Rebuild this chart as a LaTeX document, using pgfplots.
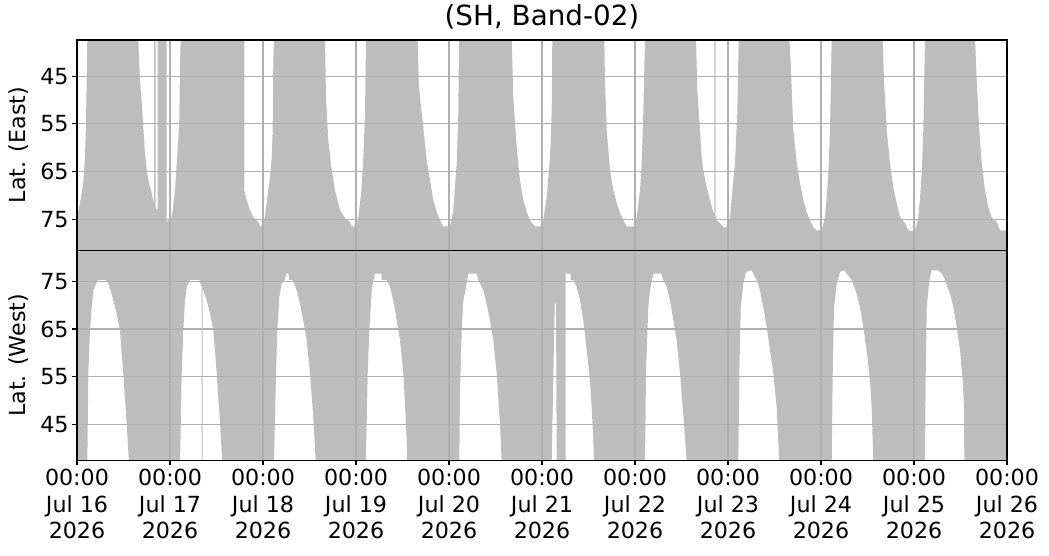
\documentclass[border=0pt]{standalone}
\usepackage{fontspec}
\setmainfont{DejaVu Sans}
\usepackage{pgfplots}
\pgfplotsset{compat=1.18}
\definecolor{fillgray}{RGB}{189,189,189}
\definecolor{gridgray}{RGB}{176,176,176}
\pgfplotsset{
 panel/.style={
  scale only axis, width=930bp, height=210.3bp,
  xmin=0, xmax=10, ymin=37.4, ymax=81.5,
  xtick={0,1,2,3,4,5,6,7,8,9,10}, ytick={45,55,65,75},
  grid=major, grid style={gridgray, line width=1.1bp},
  axis line style={line width=1.1bp, black},
  axis on top,
  tick align=outside, major tick length=4.9bp,
  tick style={line width=1.1bp, black},
  ytick pos=left, xtick pos=bottom,
  /pgf/number format/assume math mode=true,
  tick label style={font=\fontsize{22.2bp}{26.6bp}\selectfont},
  every axis y label/.style={at={(axis description cs:-0.0624,0.5)}, rotate=90, anchor=center, font=\fontsize{22.2bp}{26.6bp}\selectfont},
 }
}
\begin{document}
\begin{tikzpicture}
\useasboundingbox (0,0) rectangle (1049bp,556bp);
\begin{axis}[panel, at={(77bp,305.7bp)}, anchor=south west,
  y dir=reverse, xticklabels={}, xtick style={draw=none},
  ylabel={Lat. (East)},
  title={(SH, Band-02)},
  title style={at={(axis description cs:0.5,1)}, anchor=base, yshift=8.3bp, font=\fontsize{27.8bp}{33bp}\selectfont}]
\addplot[fill=fillgray, draw=none] coordinates {
(0,81.5)(0,74.6)(0.032,71.6)(0.051,69.5)(0.068,67.2)(0.086,62.0)(0.097,54.6)(0.111,37)
(0.659,37)(0.677,45.8)(0.696,50.6)(0.713,55.7)(0.731,61.1)(0.750,64.7)(0.767,66.8)(0.785,68.2)(0.803,69.5)(0.820,71.0)(0.828,71.6)
(0.828,37)(0.846,37)(0.846,72.5)(0.868,73.1)(0.868,37)(0.965,37)(0.965,75.4)(1.008,75.4)(1.029,73.1)(1.054,68.9)(1.072,63.2)(1.089,58.4)(1.100,54.2)(1.108,42.2)(1.115,37)
(1.799,37)(1.799,68.9)(1.825,71.0)(1.860,73.1)(1.896,74.5)(1.950,75.6)(1.968,76.5)(2.003,76.5)(2.011,75.6)(2.040,71.6)(2.075,66.2)(2.094,62.0)(2.104,56.3)(2.111,42.2)(2.118,37)
(2.667,37)(2.677,49.4)(2.702,58.4)(2.739,64.7)(2.774,68.9)(2.828,73.1)(2.882,74.8)(2.936,75.6)(2.954,76.5)(3.000,76.5)(3.025,74.6)(3.043,71.6)(3.061,68.3)(3.079,62.0)(3.097,52.7)(3.108,37)
(3.663,37)(3.674,45.8)(3.688,49.4)(3.724,55.7)(3.760,62.6)(3.796,66.8)(3.831,71.0)(3.868,73.5)(3.903,75.2)(3.939,76.5)(4.011,76.5)(4.046,73.1)(4.083,63.2)(4.100,52.7)(4.108,37)
(4.674,37)(4.691,49.4)(4.728,59.9)(4.763,66.8)(4.799,71.0)(4.836,73.5)(4.871,75.2)(4.925,76.5)(5.011,76.5)(5.014,75.2)(5.051,70.3)(5.086,61.9)(5.104,52.7)(5.111,37)
(5.670,37)(5.677,45.8)(5.696,56.3)(5.731,64.7)(5.767,68.9)(5.803,71.6)(5.839,73.7)(5.874,75.2)(5.911,76.5)(6.000,76.5)(6.018,74.6)(6.054,68.9)(6.072,63.2)(6.089,52.7)(6.108,37)
(6.656,37)(6.670,47.9)(6.699,56.3)(6.717,62.0)(6.734,64.7)(6.771,68.3)(6.806,71.0)(6.842,73.5)(6.853,73.7)(6.853,37)(6.868,37)(6.868,74.4)(6.879,75.2)(6.914,75.8)(6.950,76.7)(6.986,76.7)(7.022,74.6)(7.040,70.4)(7.075,63.2)(7.100,52.7)(7.115,37)
(7.659,37)(7.674,42.2)(7.702,56.3)(7.739,63.2)(7.774,67.4)(7.810,71.0)(7.846,73.5)(7.882,75.2)(7.917,76.7)(7.954,77.3)(8.008,77.3)(8.043,74.6)(8.061,70.4)(8.079,65.3)(8.097,56.3)(8.115,37)
(8.663,37)(8.677,45.8)(8.707,56.3)(8.742,63.2)(8.777,68.3)(8.814,71.6)(8.850,74.6)(8.903,75.8)(8.939,77.3)(8.993,77.5)(9.011,77.3)(9.046,74.6)(9.065,70.4)(9.083,65.3)(9.100,56.3)(9.118,37)
(9.656,37)(9.674,45.8)(9.702,56.3)(9.728,63.2)(9.763,68.9)(9.799,72.5)(9.836,74.6)(9.889,75.6)(9.925,77.3)(10,77.3)(10,81.5)
};
\end{axis}
\begin{axis}[panel, at={(77bp,95.4bp)}, anchor=south west,
  ylabel={Lat. (West)},
  xticklabels={{00:00\\Jul 16\\2026},{00:00\\Jul 17\\2026},{00:00\\Jul 18\\2026},{00:00\\Jul 19\\2026},{00:00\\Jul 20\\2026},{00:00\\Jul 21\\2026},{00:00\\Jul 22\\2026},{00:00\\Jul 23\\2026},{00:00\\Jul 24\\2026},{00:00\\Jul 25\\2026},{00:00\\Jul 26\\2026}},
  xticklabel style={align=center}]
\addplot[fill=fillgray, draw=none] coordinates {
(0,81.5)(0,37)(0.111,37)(0.122,55.7)(0.140,64.7)(0.158,69.5)(0.175,73.1)(0.212,74.8)(0.229,75.3)(0.312,75.3)(0.337,74.5)(0.373,72.4)(0.427,68.2)(0.462,64.7)(0.498,55.7)(0.534,45.2)(0.559,37)
(1.108,37)(1.126,55.7)(1.143,64.7)(1.161,71.0)(1.180,73.8)(1.215,75.3)(1.315,75.3)(1.341,73.8)(1.341,37)(1.352,37)(1.352,73.5)(1.358,73.1)(1.395,71.0)(1.430,68.2)(1.466,64.7)(1.502,55.7)(1.538,45.2)(1.562,37)
(2.118,37)(2.140,55.7)(2.154,64.7)(2.175,71.7)(2.201,74.5)(2.237,75.3)(2.247,76.6)(2.272,76.6)(2.283,75.3)(2.319,75.3)(2.362,73.1)(2.398,70.3)(2.433,66.8)(2.470,62.6)(2.505,55.7)(2.541,46.5)(2.567,37)
(3.104,37)(3.115,45.2)(3.126,55.7)(3.143,64.7)(3.169,73.1)(3.186,75.2)(3.204,76.6)(3.276,76.6)(3.276,75.3)(3.330,75.3)(3.366,73.8)(3.401,71.0)(3.438,66.8)(3.473,62.6)(3.509,55.7)(3.538,45.2)(3.552,37)
(4.111,37)(4.118,52.1)(4.137,64.7)(4.154,71.0)(4.190,74.5)(4.208,76.6)(4.298,76.6)(4.315,75.3)(4.369,73.1)(4.405,70.3)(4.441,66.8)(4.476,62.6)(4.513,55.7)(4.548,45.2)(4.567,37)
(5.104,37)(5.137,70.4)(5.151,70.4)(5.158,37)
(5.255,37)(5.255,76.6)(5.309,76.6)(5.309,75.3)(5.337,75.3)(5.373,73.8)(5.409,71.0)(5.444,66.8)(5.481,60.5)(5.516,54.2)(5.534,48.6)(5.552,41.6)(5.559,37)
(6.108,37)(6.118,55.7)(6.143,69.6)(6.161,73.1)(6.197,76.6)(6.280,76.6)(6.304,75.3)(6.341,73.8)(6.376,71.0)(6.412,66.8)(6.448,62.6)(6.484,55.7)(6.527,45.2)(6.556,37)
(7.111,37)(7.122,55.7)(7.137,69.6)(7.165,74.5)(7.194,77.0)(7.255,77.3)(7.272,76.6)(7.309,75.3)(7.344,73.1)(7.380,69.6)(7.416,65.4)(7.452,60.5)(7.487,55.7)(7.524,48.6)(7.552,37)
(8.115,37)(8.126,55.7)(8.140,69.6)(8.169,74.5)(8.204,77.0)(8.258,77.3)(8.276,76.6)(8.330,75.3)(8.384,72.4)(8.419,69.6)(8.455,65.4)(8.491,60.5)(8.527,54.2)(8.545,48.6)(8.562,37)
(9.118,37)(9.126,55.7)(9.137,69.6)(9.165,75.2)(9.190,77.3)(9.261,77.3)(9.298,76.6)(9.333,75.3)(9.387,72.4)(9.423,69.6)(9.459,65.4)(9.495,60.5)(9.524,54.2)(9.538,48.6)(9.541,37)
(10,37)(10,81.5)
};
\end{axis}
\end{tikzpicture}
\end{document}
